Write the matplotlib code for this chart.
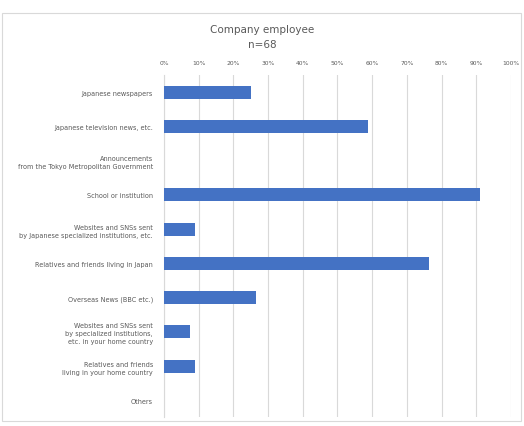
import matplotlib.pyplot as plt
from matplotlib.patches import Rectangle
from matplotlib.ticker import PercentFormatter

categories = [
    "Japanese newspapers",
    "Japanese television news, etc.",
    "Announcements\nfrom the Tokyo Metropolitan Government",
    "School or institution",
    "Websites and SNSs sent\nby Japanese specialized institutions, etc.",
    "Relatives and friends living in Japan",
    "Overseas News (BBC etc.)",
    "Websites and SNSs sent\nby specialized institutions,\netc. in your home country",
    "Relatives and friends\nliving in your home country",
    "Others",
]
values = [25.0, 58.8, 0.0, 91.2, 8.8, 76.5, 26.5, 7.4, 8.8, 0.0]
ticks = list(range(0, 101, 10))

fig = plt.figure(figsize=(5.24, 4.27), dpi=100)
fig.patches.append(Rectangle((0.004, 0.012), 0.99, 0.955, transform=fig.transFigure,
                             fill=False, edgecolor="#d9d9d9", linewidth=0.8))
ax = fig.add_axes([0.313, 0.02, 0.662, 0.802])

ypos = range(len(categories))
ax.barh(ypos, values, height=0.38, color="#4472c4", zorder=3)
ax.set_xlim(0, 100)
ax.set_ylim(len(categories) - 0.5, -0.5)
ax.set_yticks(list(ypos))
ax.set_yticklabels(categories, fontsize=4.7, color="#595959", linespacing=1.4)
ax.xaxis.tick_top()
ax.set_xticks(ticks)
ax.xaxis.set_major_formatter(PercentFormatter(decimals=0))
ax.tick_params(axis="x", labelsize=4.3, colors="#595959", length=0, pad=7)
ax.tick_params(axis="y", length=0, pad=8)
ax.grid(axis="x", color="#d9d9d9", linewidth=0.8, zorder=0)
for s in ["top", "right", "bottom"]:
    ax.spines[s].set_visible(False)
ax.spines["left"].set_color("#d9d9d9")

fig.text(0.5, 0.922, "Company employee", ha="center", fontsize=7.5, color="#595959")
fig.text(0.5, 0.887, "n=68", ha="center", fontsize=7.5, color="#595959")

fig.savefig("out.png", dpi=100)
